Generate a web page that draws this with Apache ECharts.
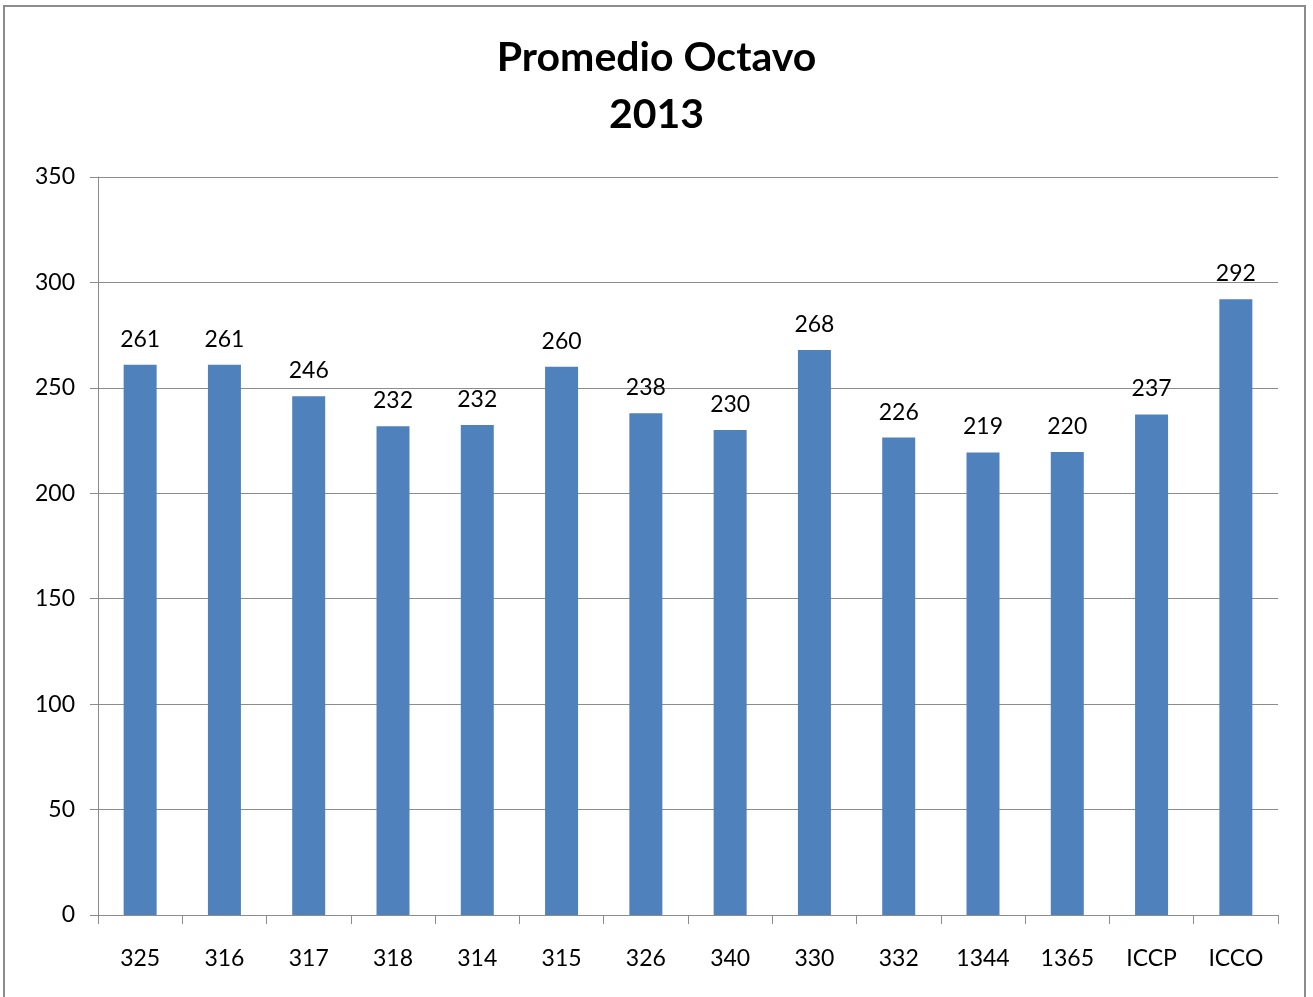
<!DOCTYPE html>
<html>
<head>
<meta charset="utf-8">
<script src="https://cdn.jsdelivr.net/npm/echarts@6/dist/echarts.min.js"></script>
<style>
  html, body { margin: 0; padding: 0; background: #fff; }
  #frame {
    position: absolute;
    left: 3px;
    top: 5px;
    width: 1299px;
    height: 1010px;
    border: 2px solid #8c8c8c;
  }
  #chart { position: absolute; left: 0; top: 0; width: 1313px; height: 997px; }
</style>
</head>
<body>
<div id="frame"></div>
<div id="chart"></div>
<script>
const categories = ['325', '316', '317', '318', '314', '315', '326', '340', '330', '332', '1344', '1365', 'ICCP', 'ICCO']
const values = [261, 261, 246, 231.8, 232.4, 260, 238, 230, 268, 226.4, 219.4, 219.6, 237.4, 292]
const yTicks = { min: 0, max: 350, interval: 50 }

const chart = echarts.init(document.getElementById('chart'))
const font = 'Lato, "Open Sans", sans-serif'

chart.setOption({
  animation: false,
  title: {
    text: 'Promedio Octavo\n2013',
    left: 'center',
    top: 24,
    textStyle: {
      fontFamily: font,
      fontSize: 41,
      fontWeight: 'bold',
      color: '#000',
      lineHeight: 57
    }
  },
  grid: { left: 98, right: 35, top: 177, bottom: 82 },
  xAxis: {
    type: 'category',
    data: categories,
    axisLine: { lineStyle: { color: '#8c8c8c', width: 1 } },
    axisTick: { show: true, length: 9, lineStyle: { color: '#8c8c8c' } },
    axisLabel: { margin: 32, fontFamily: font, fontSize: 23, color: '#000' }
  },
  yAxis: {
    type: 'value',
    min: yTicks.min,
    max: yTicks.max,
    interval: yTicks.interval,
    axisLine: { show: true, lineStyle: { color: '#8c8c8c', width: 1 } },
    axisTick: { show: true, length: 8, lineStyle: { color: '#8c8c8c' } },
    splitLine: { lineStyle: { color: '#8c8c8c', width: 1 } },
    axisLabel: { margin: 23, fontFamily: font, fontSize: 23, color: '#000' }
  },
  series: [
    {
      type: 'bar',
      data: values,
      barWidth: 33,
      itemStyle: { color: '#4f81bd' },
      label: {
        show: true,
        position: 'top',
        distance: 14,
        fontFamily: font,
        fontSize: 23,
        color: '#000',
        formatter: p => Math.round(p.value)
      }
    }
  ]
})
</script>
</body>
</html>
